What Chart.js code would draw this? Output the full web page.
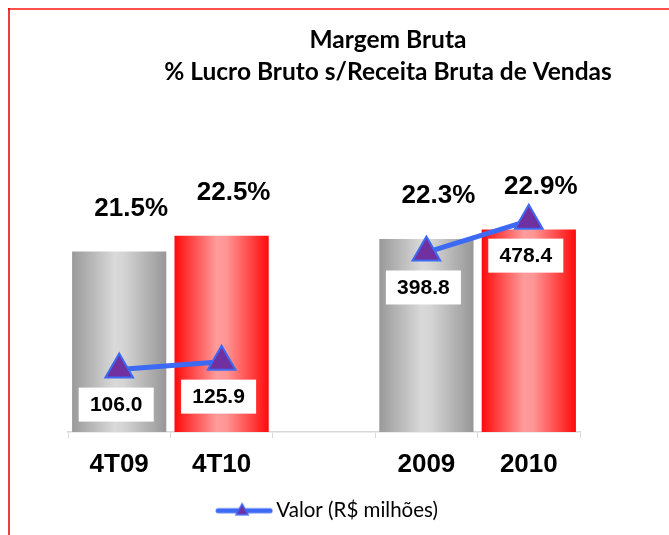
<!DOCTYPE html>
<html lang="pt">
<head>
<meta charset="utf-8">
<title>Margem Bruta</title>
<script src="https://cdn.jsdelivr.net/npm/chart.js@4.4.1/dist/chart.umd.min.js"></script>
<style>
  html, body { margin: 0; padding: 0; background: #fff; }
  #chart { display: block; }
</style>
</head>
<body>
<canvas id="chart" width="669" height="535"></canvas>
<script>
// dados
const categories = ['4T09', '4T10', '', '2009', '2010'];
const margemPct = [21.5, 22.5, null, 22.3, 22.9];       // % lucro bruto (barras)
const valorMilhoes = [106.0, 125.9, null, 398.8, 478.4]; // R$ milhoes (linha)
const barKind = ['gray', 'red', null, 'gray', 'red'];
const titleLines = ['Margem Bruta', '% Lucro Bruto s/Receita Bruta de Vendas'];
const legendLabel = 'Valor (R$ milhões)';

const blue = '#3d6af5';
const purple = '#7030a0';
const barPct = 0.92;

// gradiente horizontal tipo "cilindro" do Excel
function barGradient(context) {
    const chart = context.chart;
    const kind = barKind[context.dataIndex];
    if (!chart.chartArea) return kind === 'red' ? '#ff0000' : '#aaaaaa';
    const xScale = chart.scales.x;
    const cx = xScale.getPixelForValue(context.dataIndex);
    const half = (xScale.width / categories.length) * barPct / 2;
    const g = chart.ctx.createLinearGradient(cx - half, 0, cx + half, 0);
    if (kind === 'red') {
        g.addColorStop(0, '#ff0a0a');
        g.addColorStop(0.45, '#ff9c9c');
        g.addColorStop(0.55, '#ff9595');
        g.addColorStop(1, '#ff0a0a');
    } else {
        g.addColorStop(0, '#9a9a9a');
        g.addColorStop(0.45, '#d9d9d9');
        g.addColorStop(0.55, '#d4d4d4');
        g.addColorStop(1, '#979797');
    }
    return g;
}

// icone da legenda: linha + triangulo (deslocado p/ direita dentro do canvas)
function legendIcon() {
    const c = document.createElement('canvas');
    c.width = 70; c.height = 18;
    const ctx = c.getContext('2d');
    ctx.strokeStyle = blue;
    ctx.lineWidth = 5;
    ctx.lineCap = 'round';
    ctx.beginPath(); ctx.moveTo(15, 9); ctx.lineTo(67, 9); ctx.stroke();
    ctx.fillStyle = purple;
    ctx.lineWidth = 1.5;
    ctx.beginPath();
    ctx.moveTo(39, 2); ctx.lineTo(45, 13); ctx.lineTo(33, 13); ctx.closePath();
    ctx.fill(); ctx.stroke();
    return c;
}

const framePlugin = {
    id: 'frame',
    beforeDraw(chart) {
        const ctx = chart.ctx;
        ctx.save();
        ctx.fillStyle = '#fff';
        ctx.fillRect(0, 0, chart.width, chart.height);
        ctx.strokeStyle = '#ff5050';
        ctx.lineWidth = 2;
        ctx.beginPath(); ctx.moveTo(8, 9); ctx.lineTo(chart.width, 9); ctx.stroke();
        ctx.strokeStyle = '#e60000';
        ctx.lineWidth = 1.5;
        ctx.beginPath(); ctx.moveTo(9, 8); ctx.lineTo(9, chart.height); ctx.stroke();
        ctx.restore();
    },
    afterDraw(chart) {
        const ctx = chart.ctx;
        ctx.save();
        ctx.fillStyle = '#000';
        ctx.textAlign = 'center';
        ctx.textBaseline = 'alphabetic';
        ctx.font = 'bold 24.5px Lato, "Open Sans", sans-serif';
        ctx.fillText(titleLines[0], 388, 48);
        ctx.fillText(titleLines[1], 388, 80);
        ctx.restore();
    }
};

const labelPlugin = {
    id: 'rotulos',
    afterDatasetsDraw(chart) {
        const ctx = chart.ctx;
        const bars = chart.getDatasetMeta(1).data;
        const pts = chart.getDatasetMeta(0).data;
        ctx.save();
        ctx.textAlign = 'center';
        ctx.textBaseline = 'middle';
        ctx.font = 'bold 26px "Liberation Sans", Arial, sans-serif';
        ctx.fillStyle = '#000';
        bars.forEach(function (bar, i) {
            if (margemPct[i] == null) return;
            ctx.fillText(margemPct[i].toFixed(1) + '%', bar.x + 12, bar.y - 43);
        });
        ctx.font = 'bold 21px "Liberation Sans", Arial, sans-serif';
        pts.forEach(function (pt, i) {
            if (valorMilhoes[i] == null) return;
            let cx = pt.x - 3, cy = pt.y + 35;
            ctx.fillStyle = '#fff';
            ctx.fillRect(cx - 37.5, cy - 17, 75, 34);
            ctx.fillStyle = '#000';
            ctx.fillText(valorMilhoes[i].toFixed(1), cx, cy + 1);
        });
        ctx.restore();
    }
};

new Chart(document.getElementById('chart'), {
    type: 'bar',
    data: {
        labels: categories,
        datasets: [{
            type: 'line',
            label: legendLabel,
            data: valorMilhoes,
            yAxisID: 'y2',
            order: 0,
            borderColor: blue,
            borderWidth: 5,
            tension: 0,
            spanGaps: false,
            pointStyle: 'triangle',
            pointRadius: 16,
            pointBackgroundColor: purple,
            pointBorderColor: blue,
            pointBorderWidth: 2
        }, {
            type: 'bar',
            label: 'Margem',
            data: margemPct,
            yAxisID: 'y',
            order: 1,
            backgroundColor: barGradient,
            borderWidth: 0,
            barPercentage: barPct,
            categoryPercentage: 1
        }]
    },
    options: {
        responsive: false,
        animation: false,
        devicePixelRatio: 1,
        layout: {
            padding: { left: 68, right: 89, top: 118, bottom: 4 }
        },
        plugins: {
            title: { display: false },
            tooltip: { enabled: false },
            legend: {
                position: 'bottom',
                labels: {
                    filter: function (item) { return item.datasetIndex === 0; },
                    usePointStyle: true,
                    pointStyle: legendIcon(),
                    pointStyleWidth: 56,
                    color: '#000',
                    padding: 4,
                    font: { family: 'Lato, "Open Sans", sans-serif', size: 20.5 }
                }
            }
        },
        scales: {
            x: {
                afterFit: function (scale) { scale.height = 64.5; },
                grid: {
                    display: true,
                    drawOnChartArea: false,
                    drawTicks: true,
                    tickLength: 6,
                    color: '#d9d9d9'
                },
                border: { display: true, color: '#d9d9d9', width: 1.5 },
                ticks: {
                    color: '#000',
                    padding: 11,
                    font: { family: '"Liberation Sans", Arial, sans-serif', size: 26, weight: 'bold' }
                }
            },
            y: {
                display: false,
                min: 10,
                max: 30
            },
            y2: {
                display: false,
                min: -50,
                max: 735
            }
        }
    },
    plugins: [framePlugin, labelPlugin]
});
</script>
</body>
</html>
